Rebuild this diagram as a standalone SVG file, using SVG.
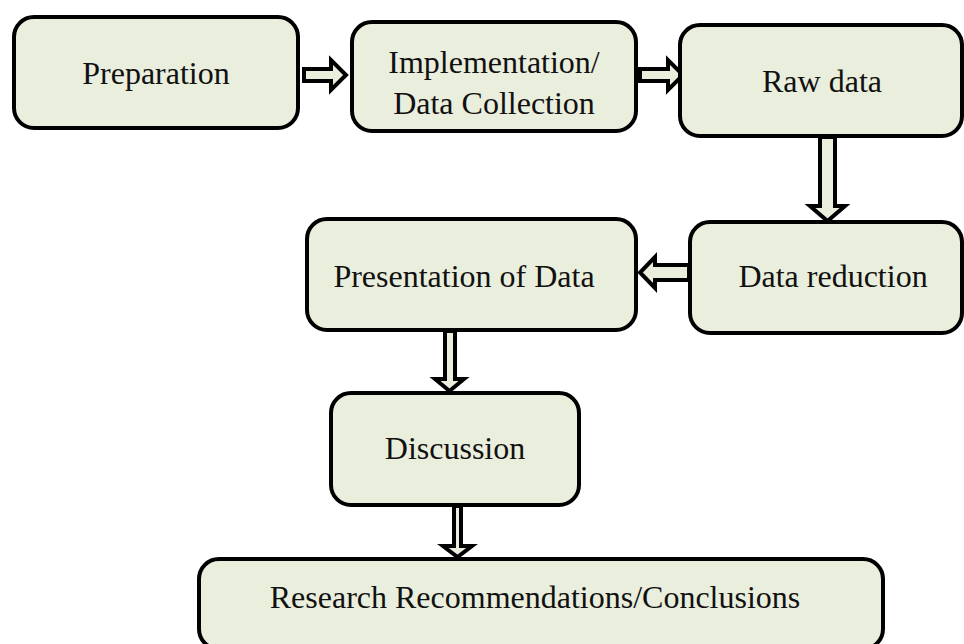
<svg xmlns="http://www.w3.org/2000/svg" width="964" height="644" viewBox="0 0 964 644">
  <style>
    .box { fill: #eaeedd; stroke: #000; stroke-width: 4; }
    .lbl { font-family: "Liberation Serif", "Times New Roman", serif; font-size: 32px; fill: #111; text-anchor: middle; }
    .arr { fill: #eaeedd; stroke: #000; stroke-width: 4; stroke-linejoin: miter; }
  </style>
  <rect width="964" height="644" fill="#fff"/>
  <g id="connectors">
    <path class="arr" d="M304,69 H331 V60 L346,75 L331,90 V81 H304 Z"/>
    <path class="arr" d="M640,69 H668 V60 L683,75 L668,90 V81 H640 Z"/>
    <path class="arr" d="M820,137 V206 H810 L827.5,221 L845,206 H835 V137 Z"/>
    <path class="arr" d="M689,265 H655 V257 L640,272.5 L655,288 V280 H689 Z"/>
    <path class="arr" d="M445,331 V379 H435 L449.5,391 L464,379 H455 V331 Z"/>
    <path class="arr" d="M454,506 V546 H443 L457.5,557 L472,546 H461 V506 Z"/>
  </g>
  <g id="preparation">
    <rect class="box" x="14" y="17" width="284" height="111" rx="20"/>
    <text class="lbl" x="156" y="84">Preparation</text>
  </g>
  <g id="implementation">
    <rect class="box" x="352" y="22" width="284" height="109" rx="20"/>
    <text class="lbl" x="494" y="73">Implementation/</text>
    <text class="lbl" x="494" y="114">Data Collection</text>
  </g>
  <g id="raw-data">
    <rect class="box" x="680" y="25" width="282" height="111" rx="20"/>
    <text class="lbl" x="822" y="92">Raw data</text>
  </g>
  <g id="data-reduction">
    <rect class="box" x="690" y="222" width="272" height="111" rx="20"/>
    <text class="lbl" x="833" y="287">Data reduction</text>
  </g>
  <g id="presentation">
    <rect class="box" x="307" y="219" width="329" height="111" rx="20"/>
    <text class="lbl" x="464" y="287">Presentation of Data</text>
  </g>
  <g id="discussion">
    <rect class="box" x="331" y="393" width="248" height="112" rx="20"/>
    <text class="lbl" x="455" y="459">Discussion</text>
  </g>
  <g id="research">
    <rect class="box" x="199" y="559" width="684" height="90" rx="20"/>
    <text class="lbl" x="535" y="608">Research Recommendations/Conclusions</text>
  </g>
</svg>
